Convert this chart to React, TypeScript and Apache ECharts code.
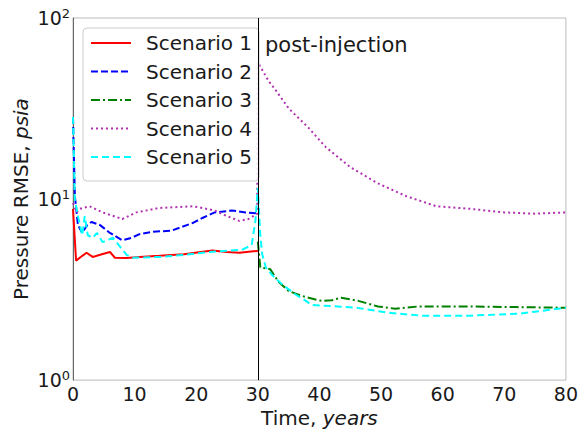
import React, { useEffect, useRef } from "react";
import * as echarts from "echarts";

const FONT = "DejaVu Sans";

const xTicks = [0, 10, 20, 30, 40, 50, 60, 70, 80];
const yTicks = [1, 10, 100];
const injectionEnd = 30;

const seriesNames = ["Scenario 1", "Scenario 2", "Scenario 3", "Scenario 4", "Scenario 5"];

const scenario1: number[][] = [
  [0, 8.83], [0.5, 4.57], [1.2, 4.77], [2.2, 5.05], [3.2, 4.79], [4.4, 4.92], [6, 5.1],
  [6.8, 4.74], [8.7, 4.72], [10.8, 4.79], [14, 4.86], [18, 4.96], [22.6, 5.2], [25, 5.1],
  [27, 5.05], [30, 5.17],
];

const scenario2: number[][] = [
  [0, 28.4], [0.3, 10.4], [0.8, 7.18], [1.5, 6.5], [2.3, 7.18], [3, 7.47], [4.4, 7.18], [6, 6.5],
  [8, 5.92], [9.5, 6.11], [10.8, 6.4], [13, 6.6], [16, 6.69], [19.4, 7.37], [21, 7.86], [23, 8.44],
  [25.8, 8.64], [28, 8.44], [29.8, 8.34], [30, 8.39],
];

const scenario3: number[][] = [
  [30, 5.82], [30.4, 4.19], [32, 4.1], [33.3, 3.51], [35, 3.1], [37.7, 2.88], [40.3, 2.74],
  [42, 2.76], [43.5, 2.85], [46.3, 2.74], [49.5, 2.55], [52.3, 2.48], [56, 2.55], [64.5, 2.55],
  [72, 2.53], [80, 2.51],
];

const scenario4: number[][] = [
  [0, 9.51], [0.6, 8.44], [1.1, 8.83], [2.7, 9.12], [4.8, 8.44], [8, 7.76], [10.3, 8.44], [14, 8.93],
  [17, 9.03], [19.4, 9.12], [21, 8.93], [23, 8.64], [25, 8.05], [27, 7.57], [28.5, 7.76], [29.9, 8.3],
  [30, 56.8], [31.8, 44.6], [33, 39.5], [35, 31.7], [38.2, 24.8], [41, 19.4], [45, 15.0], [49.5, 12.2],
  [54, 10.4], [59, 9.12], [64.5, 8.83], [70, 8.44], [75, 8.3], [80, 8.44],
];

const scenario5: number[][] = [
  [0, 28.4], [0.3, 10.0], [0.8, 8.05], [1.5, 6.31], [1.9, 8.05], [2.4, 6.31], [3.2, 6.11], [3.9, 6.5],
  [4.8, 5.78], [6.5, 6.11], [8.7, 4.92], [9.7, 4.74], [14, 4.79], [18, 4.91], [22, 5.1],
  [27.4, 5.24], [29, 5.57], [29.6, 7.57], [30, 11.5], [30.4, 6.31], [30.7, 4.96], [31.3, 4.19],
  [32.3, 3.81], [33.9, 3.39], [36, 2.99], [37.8, 2.74], [38.7, 2.6], [43, 2.55], [46, 2.51],
  [51, 2.36], [56.5, 2.27], [64.5, 2.27], [72.6, 2.33], [80, 2.51],
];

const seriesData = [scenario1, scenario2, scenario3, scenario4, scenario5];
const colors = ["#ff0000", "#0000ff", "#008000", "#b030b0", "#00ffff"];
const dashes: any[] = ["solid", [7, 3], [9, 3, 2, 3], [2, 3], [7, 4]];

export default function App() {
  const ref = useRef<HTMLDivElement>(null);
  useEffect(() => {
    if (!ref.current) return;
    const chart = echarts.init(ref.current, null, { renderer: "svg" });
    const series: any[] = seriesData.map((d, i) => ({
      name: seriesNames[i],
      type: "line",
      data: d,
      symbol: "none",
      showSymbol: false,
      color: colors[i],
      lineStyle: { color: colors[i], width: 2, type: dashes[i] },
      z: 3,
    }));
    series[0].markLine = {
      silent: true,
      symbol: ["none", "none"],
      label: { show: false },
      lineStyle: { color: "#000", width: 1, type: "solid" },
      data: [{ xAxis: injectionEnd }],
    };
    chart.setOption({
      animation: false,
      grid: { left: 73, right: 12, top: 18, bottom: 45, show: true, borderColor: "#bbb", borderWidth: 1 },
      xAxis: {
        type: "value",
        min: xTicks[0],
        max: xTicks[xTicks.length - 1],
        interval: 10,
        axisLine: { show: false },
        axisTick: { show: false },
        splitLine: { show: false },
        axisLabel: { fontSize: 19, fontFamily: FONT, color: "#1a1a1a", margin: 4 },
        name: "Time, {i|years}",
        nameLocation: "middle",
        nameGap: 25,
        nameTextStyle: {
          fontSize: 20,
          fontFamily: FONT,
          color: "#1a1a1a",
          rich: { i: { fontSize: 20, fontFamily: FONT, fontStyle: "italic", color: "#1a1a1a" } },
        },
      },
      yAxis: {
        type: "log",
        logBase: 10,
        min: yTicks[0],
        max: yTicks[yTicks.length - 1],
        axisLine: { show: true, lineStyle: { color: "#666", width: 1 } },
        axisTick: { show: false },
        splitLine: { show: false },
        axisLabel: {
          margin: 3,
          formatter: (v: number) => "{b|10}{s|" + Math.round(Math.log10(v)) + "}",
          rich: {
            b: { fontSize: 19, fontFamily: FONT, color: "#1a1a1a", lineHeight: 22 },
            s: { fontSize: 13, fontFamily: FONT, color: "#1a1a1a", lineHeight: 22, verticalAlign: "top" },
          },
        },
        name: "Pressure RMSE, {i|psia}",
        nameLocation: "middle",
        nameGap: 42,
        nameMoveOverlap: false,
        nameTextStyle: {
          fontSize: 20,
          fontFamily: FONT,
          color: "#1a1a1a",
          rich: { i: { fontSize: 20, fontFamily: FONT, fontStyle: "italic", color: "#1a1a1a" } },
        },
      },
      legend: {
        data: seriesNames,
        orient: "vertical",
        left: 83,
        top: 28,
        itemWidth: 40,
        itemHeight: 14,
        itemGap: 8.5,
        padding: [5, 7, 14, 7],
        borderColor: "#ccc",
        borderWidth: 1,
        borderRadius: 4,
        backgroundColor: "rgba(255,255,255,0.85)",
        itemStyle: { opacity: 0 },
        textStyle: { fontSize: 20, fontFamily: FONT, color: "#1a1a1a", lineHeight: 20, padding: [0, 0, 0, 10] },
      },
      graphic: [
        {
          type: "text",
          left: 265,
          top: 34,
          style: { text: "post-injection", fontSize: 21, fontFamily: FONT, fill: "#1a1a1a" },
        },
      ],
      series,
    });
    return () => chart.dispose();
  }, []);
  return <div ref={ref} style={{ width: 581, height: 433, position: "absolute", left: 0, top: 0 }} />;
}
